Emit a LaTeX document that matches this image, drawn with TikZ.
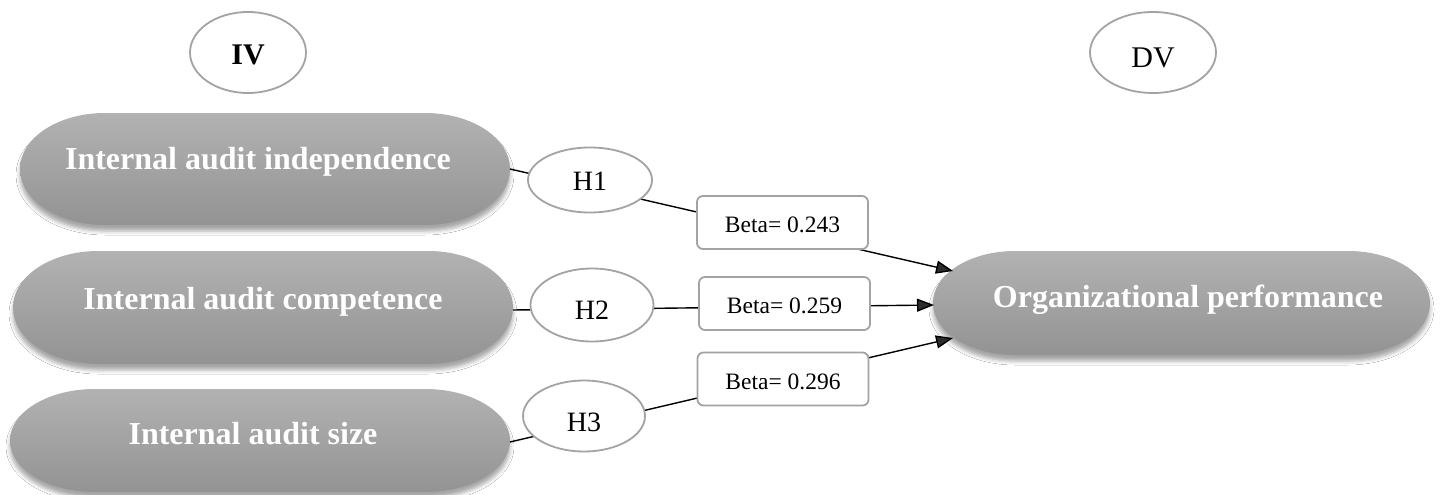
\documentclass[tikz,border=0pt]{standalone}
\usepackage{fontspec}
\setmainfont{Liberation Serif}
\usetikzlibrary{shapes.geometric,arrows.meta,calc,shadows.blur}
\definecolor{pilltop}{RGB}{178,178,178}
\definecolor{pillbot}{RGB}{147,147,147}
\definecolor{edgegray}{RGB}{163,163,163}
\newcommand\pillpath[3]{%
  \path[pillfill] ($(#1.north west)+(#2,0)$) -- ($(#1.north east)+(-#2,0)$)
    arc[start angle=90,end angle=-90,x radius=#2pt,y radius=#3pt]
    -- ($(#1.south west)+(#2,0)$)
    arc[start angle=270,end angle=90,x radius=#2pt,y radius=#3pt] -- cycle;}
\tikzset{
  anchorbox/.style={draw=none, inner sep=0pt, outer sep=0pt},
  pillfill/.style={top color=pilltop, bottom color=pillbot, draw=none,
    blur shadow={shadow xshift=0pt, shadow yshift=-6pt, shadow blur radius=4pt, shadow opacity=35}},
  pilltext/.style={anchor=base, text=white, font=\fontsize{32}{36}\selectfont\bfseries, inner sep=0pt},
  oval/.style={ellipse, draw=edgegray, line width=1.8pt, fill=white, inner sep=0pt, text depth=0pt},
  htext/.style={font=\fontsize{28}{32}\selectfont},
  betabox/.style={rectangle, rounded corners=6pt, draw=edgegray, line width=1.8pt, fill=white,
    minimum width=171pt, minimum height=53pt, inner sep=0pt, text height=20pt, text depth=0pt,
    font=\fontsize{23.5}{28}\selectfont},
  conn/.style={line width=1.4pt, -{Triangle[length=17pt,width=13pt]}},
}
\begin{document}
\begin{tikzpicture}[x=1pt,y=-1pt]
\useasboundingbox (0,0) rectangle (1440,495);
\fill[white] (0,0) rectangle (1440,495);

% header ellipses
\node[oval, minimum width=116pt, minimum height=81pt, text height=25pt,
  font=\fontsize{30}{34}\selectfont\bfseries] (IV) at (248,52.5) {IV};
\node[oval, minimum width=126pt, minimum height=81pt, text height=29pt,
  font=\fontsize{30}{34}\selectfont] (DV) at (1153,52.5) {DV};

% pills (named boxes + drawn shapes)
\node[anchorbox, minimum width=490pt, minimum height=112pt] (P1) at (265,169) {};
\node[anchorbox, minimum width=500pt, minimum height=113pt] (P2) at (263,307.5) {};
\node[anchorbox, minimum width=500pt, minimum height=103pt] (P3) at (260,440.5) {};
\node[anchorbox, minimum width=497pt, minimum height=104pt] (O) at (1181.5,303) {};
\pillpath{P1}{85}{56}
\pillpath{P2}{85}{56.5}
\pillpath{P3}{85}{51.5}
\pillpath{O}{82}{52}
\node[pilltext] (P1t) at (258,169) {Internal audit independence};
\node[pilltext] (P2t) at (263,309) {Internal audit competence};
\node[pilltext] (P3t) at (253,444) {Internal audit size};
\node[pilltext] (Ot) at (1188,307) {Organizational performance};

% connector end points
\coordinate (s1) at (P1.east);
\coordinate (s2) at ($(P2.east)+(0,2.5)$);
\coordinate (s3) at ($(P3.east)+(0,1.5)$);
\coordinate (e1) at ($(O.west)+(20,-32)$);
\coordinate (e2) at ($(O.west)+(1,2)$);
\coordinate (e3) at ($(O.west)+(20,35)$);
\draw[conn] (s1) -- (e1);
\draw[conn] (s2) -- (e2);
\draw[conn] (s3) -- (e3);

% hypothesis ellipses
\node[oval, htext, minimum width=124pt, minimum height=65pt, text height=20pt] (H1) at (590,180) {H1};
\node[oval, htext, minimum width=123pt, minimum height=73pt, text height=28pt] (H2) at (592,305) {H2};
\node[oval, htext, minimum width=122pt, minimum height=71pt, text height=30pt] (H3) at (584,416) {H3};

% beta boxes
\node[betabox] (B1) at (782.5,222.5) {Beta= 0.243};
\node[betabox] (B2) at (784.5,303.5) {Beta= 0.259};
\node[betabox] (B3) at (783,379) {Beta= 0.296};
\end{tikzpicture}
\end{document}
